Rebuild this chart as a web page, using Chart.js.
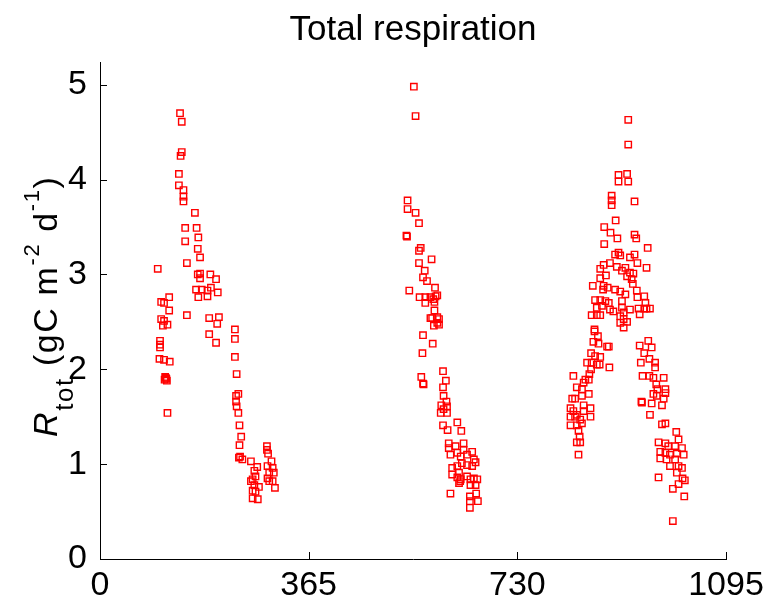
<!DOCTYPE html>
<html>
<head>
<meta charset="utf-8">
<script src="https://cdn.jsdelivr.net/npm/chart.js@4.4.1/dist/chart.umd.min.js"></script>
<style>
  html, body { margin: 0; padding: 0; background: #fff; }
  #wrap { width: 776px; height: 613px; }
</style>
</head>
<body>
<div id="wrap"><canvas id="c" width="776" height="613"></canvas></div>
<script>
// ---- data (day of record, total respiration gC m-2 d-1) ----
const xTicks = [0, 365, 730, 1095];
const yTicks = [0, 1, 2, 3, 4, 5];

const year1Days = [140,143,143,141,138,138,146,146,146,166,149,169,172,149,171,175,152,101,171,175,175,193,203,168,178,188,194,172,188,206,121,107,112,121,152,191,208,205,107,112,118,110,236,236,191,203,105,105,105,236,104,112,122,239,113,115,117,114,116,242,238,238,239,242,118,244,247,244,245,249,264,243,292,292,294,300,293,302,296,304,270,275,272,267,264,270,278,272,267,267,276,293,296,302,306];
const year1Resp = [4.70,4.61,4.29,4.25,4.06,3.94,3.89,3.82,3.77,3.65,3.49,3.49,3.39,3.35,3.27,3.18,3.12,3.06,3.00,3.01,2.96,3.00,2.95,2.84,2.84,2.83,2.86,2.76,2.77,2.81,2.76,2.71,2.70,2.62,2.57,2.54,2.55,2.48,2.53,2.51,2.47,2.46,2.42,2.32,2.37,2.28,2.30,2.26,2.23,2.13,2.11,2.10,2.08,1.95,1.89,1.91,1.88,1.92,1.90,1.74,1.72,1.66,1.61,1.54,1.54,1.41,1.29,1.20,1.08,1.05,1.03,1.07,1.19,1.15,1.11,1.03,0.98,0.96,0.91,0.91,0.93,0.97,0.87,0.84,0.82,0.78,0.76,0.71,0.72,0.64,0.63,0.85,0.82,0.82,0.75];

const year2Days = [549,552,538,538,552,558,536,537,561,558,580,558,568,565,572,541,586,559,569,578,587,590,583,569,585,585,578,590,581,593,590,584,593,565,582,564,600,562,565,566,605,600,601,606,597,607,596,607,601,625,632,600,608,610,610,613,622,636,636,651,654,657,625,631,642,633,616,625,642,651,616,628,631,642,648,654,660,648,657,613,658,661,647,647,647,628,630,625];
const year2Resp = [4.98,4.67,3.78,3.69,3.65,3.54,3.41,3.40,3.28,3.25,3.16,3.12,3.04,2.97,2.93,2.83,2.86,2.76,2.76,2.76,2.77,2.78,2.74,2.70,2.71,2.62,2.54,2.55,2.54,2.53,2.49,2.46,2.47,2.36,2.27,2.17,1.98,1.92,1.85,1.84,1.88,1.81,1.72,1.66,1.62,1.61,1.54,1.54,1.58,1.44,1.35,1.41,1.36,1.22,1.17,1.10,1.19,1.22,1.15,1.13,1.05,1.02,1.12,1.08,1.10,1.01,0.96,0.98,0.99,0.98,0.89,0.91,0.84,0.87,0.84,0.85,0.84,0.78,0.78,0.69,0.69,0.61,0.66,0.61,0.54,0.80,0.82,0.86];

const year3Days = [924,924,907,922,907,924,895,895,895,935,902,882,893,905,935,938,882,958,901,907,910,927,935,881,892,904,919,913,927,933,940,956,875,885,875,922,930,932,862,881,888,880,901,910,919,939,940,952,954,962,956,952,866,875,884,869,878,890,892,898,913,913,916,927,942,944,860,869,875,910,916,910,922,916,865,865,871,863,872,890,887,859,866,875,852,860,869,874,891,859,856,828,849,855,846,834,843,855,843,826,831,846,858,823,828,834,846,823,831,858,840,823,834,843,837,839,834,840,837,944,959,965,952,961,971,971,946,949,961,968,986,973,975,989,989,968,974,986,948,947,965,983,962,983,989,1008,1012,977,989,994,1006,1018,980,989,997,1009,1021,980,991,1006,997,1012,1018,1009,977,1019,1023,1012,1002,1022,1002];
const year3Resp = [4.63,4.37,4.05,4.06,3.98,3.98,3.83,3.78,3.73,3.77,3.57,3.50,3.44,3.38,3.42,3.38,3.32,3.28,3.21,3.23,3.20,3.18,3.21,3.10,3.12,3.08,3.07,3.04,3.02,3.01,3.12,3.07,3.06,2.99,2.96,2.98,2.95,2.90,2.88,2.88,2.86,2.84,2.84,2.82,2.79,2.83,2.76,2.77,2.70,2.64,2.64,2.64,2.73,2.73,2.72,2.65,2.67,2.70,2.63,2.61,2.72,2.65,2.60,2.63,2.64,2.58,2.57,2.57,2.57,2.56,2.53,2.49,2.50,2.44,2.42,2.40,2.35,2.29,2.27,2.24,2.24,2.17,2.14,2.13,2.07,2.07,2.05,2.05,2.02,2.00,1.95,1.93,1.89,1.89,1.86,1.81,1.79,1.74,1.72,1.69,1.69,1.62,1.59,1.59,1.56,1.52,1.56,1.50,1.50,1.50,1.47,1.41,1.41,1.43,1.35,1.29,1.23,1.23,1.10,2.25,2.30,2.23,2.17,2.11,2.07,2.02,2.07,1.93,1.93,1.91,1.91,1.84,1.79,1.79,1.75,1.74,1.72,1.69,1.65,1.66,1.64,1.62,1.52,1.42,1.43,1.34,1.26,1.23,1.22,1.19,1.19,1.17,1.13,1.12,1.10,1.11,1.10,1.06,1.05,1.05,0.98,0.98,0.96,0.91,0.86,0.85,0.83,0.79,0.74,0.66,0.40];

const titleText = 'Total respiration';
const yLabelParts = [
  { text: 'R', style: 'italic', size: 34, shift: 0 },
  { text: 'tot', style: 'normal', size: 26, shift: 16 },
  { text: ' (gC m', style: 'normal', size: 34, shift: 0 },
  { text: '-2', style: 'normal', size: 22, shift: -18 },
  { text: ' d', style: 'normal', size: 34, shift: 0 },
  { text: '-1', style: 'normal', size: 22, shift: -18 },
  { text: ')', style: 'normal', size: 34, shift: 0 }
];

const FONT = '"Liberation Sans", Arial, Helvetica, sans-serif';
const RED = '#ff0000';

function toPoints(xs, ys) { return xs.map((x, i) => ({ x: x, y: ys[i] })); }
function ds(xs, ys) {
  return {
    data: toPoints(xs, ys),
    pointStyle: 'rect',
    pointRadius: 4.5,
    pointHoverRadius: 4.5,
    pointBorderWidth: 1.4,
    borderColor: RED,
    pointBorderColor: RED,
    backgroundColor: 'rgba(0,0,0,0)',
    pointBackgroundColor: 'rgba(0,0,0,0)',
    showLine: false
  };
}

const decorPlugin = {
  id: 'decor',
  afterDraw(chart) {
    const ctx = chart.ctx;
    const xs = chart.scales.x, ys = chart.scales.y;
    const a = chart.chartArea;
    ctx.save();
    ctx.strokeStyle = '#000';
    ctx.lineWidth = 1;
    // inward tick marks
    xTicks.forEach(v => {
      const px = Math.round(xs.getPixelForValue(v)) + 0.5;
      ctx.beginPath(); ctx.moveTo(px, a.bottom); ctx.lineTo(px, a.bottom - 7); ctx.stroke();
    });
    yTicks.forEach(v => {
      const py = Math.round(ys.getPixelForValue(v)) + 0.5;
      ctx.beginPath(); ctx.moveTo(a.left, py); ctx.lineTo(a.left + 7, py); ctx.stroke();
    });
    // title, centred over the plot area
    ctx.fillStyle = '#000';
    ctx.font = 'normal 35px ' + FONT;
    ctx.textAlign = 'center';
    ctx.textBaseline = 'alphabetic';
    ctx.fillText(titleText, (a.left + a.right) / 2, 40);
    // y-axis label with sub/superscripts
    ctx.translate(57, 437);
    ctx.rotate(-Math.PI / 2);
    ctx.textAlign = 'left';
    try { ctx.letterSpacing = '1.6px'; } catch (e) {}
    let pos = 0;
    yLabelParts.forEach(p => {
      ctx.font = p.style + ' ' + p.size + 'px ' + FONT;
      ctx.fillText(p.text, pos, p.shift);
      pos += ctx.measureText(p.text).width;
    });
    ctx.restore();
  }
};

new Chart(document.getElementById('c'), {
  type: 'scatter',
  data: { datasets: [ds(year1Days, year1Resp), ds(year2Days, year2Resp), ds(year3Days, year3Resp)] },
  options: {
    responsive: false,
    animation: false,
    devicePixelRatio: 1,
    layout: { padding: { left: 0, right: 50, top: 62, bottom: 0 } },
    plugins: {
      legend: { display: false },
      tooltip: { enabled: false },
      title: { display: false }
    },
    scales: {
      x: {
        type: 'linear',
        min: 0, max: 1095,
        afterBuildTicks: s => { s.ticks = xTicks.map(v => ({ value: v })); },
        afterFit: s => { s.height = 54; },
        grid: { display: false, drawTicks: false },
        border: { display: true, color: '#000', width: 1 },
        ticks: { color: '#000', padding: 6, maxRotation: 0, autoSkip: false,
                 font: { family: FONT, size: 34 }, callback: v => String(v) }
      },
      y: {
        type: 'linear',
        min: 0, max: 5.24,
        afterBuildTicks: s => { s.ticks = yTicks.map(v => ({ value: v })); },
        afterFit: s => { s.width = 100; },
        grid: { display: false, drawTicks: false },
        border: { display: true, color: '#000', width: 1 },
        ticks: { color: '#000', padding: 13, autoSkip: false,
                 font: { family: FONT, size: 34 }, callback: v => String(v) }
      }
    }
  },
  plugins: [decorPlugin]
});
</script>
</body>
</html>
